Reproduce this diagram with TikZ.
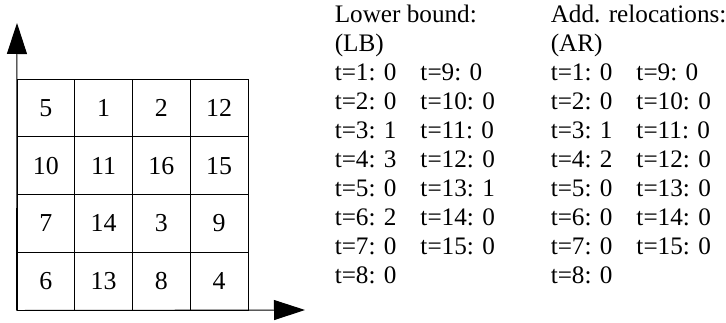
\documentclass[tikz,border=0pt]{standalone}
\usepackage{fontspec}
\setmainfont{Liberation Serif}
\usetikzlibrary{arrows.meta}
\tikzstyle{cell} = [rectangle, draw=black, line width=0.7pt, minimum size=43.31pt, inner sep=0pt, font=\fontsize{19.4}{21.75}\selectfont]
\tikzstyle{list} = [anchor=base west, inner sep=0pt, font=\fontsize{18.9}{21.75}\selectfont]
\tikzstyle{axis} = [line width=0.7pt, -{Triangle[length=23.25pt, width=15pt]}]
\begin{document}
\begin{tikzpicture}[x=0.75pt, y=0.75pt, node distance=43.31pt]
\useasboundingbox (0,0) rectangle (726,322);

% slot grid
\node (c11) [cell] at (45.9,214.1) {5};
\node (c12) [cell, right of=c11] {1};
\node (c13) [cell, right of=c12] {2};
\node (c14) [cell, right of=c13] {12};
\node (c21) [cell, below of=c11] {10};
\node (c22) [cell, right of=c21] {11};
\node (c23) [cell, right of=c22] {16};
\node (c24) [cell, right of=c23] {15};
\node (c31) [cell, below of=c21] {7};
\node (c32) [cell, right of=c31] {14};
\node (c33) [cell, right of=c32] {3};
\node (c34) [cell, right of=c33] {9};
\node (c41) [cell, below of=c31] {6};
\node (c42) [cell, right of=c41] {13};
\node (c43) [cell, right of=c42] {8};
\node (c44) [cell, right of=c43] {4};

% axes
\coordinate (xend) at (305,12);
\coordinate (yend) at (17,299);
\draw [axis] (c41.south west) -- (xend);
\draw [axis] (c41.south west) -- (yend);

% lower bound
\node (lb) [list] at (334.5,299.3) {\begin{tabular}[t]{@{}p{64.3pt}@{}l@{}}
\multicolumn{2}{@{}l@{}}{Lower bound:}\\
\multicolumn{2}{@{}l@{}}{(LB)}\\
t=1: 0 & t=9: 0\\
t=2: 0 & t=10: 0\\
t=3: 1 & t=11: 0\\
t=4: 3 & t=12: 0\\
t=5: 0 & t=13: 1\\
t=6: 2 & t=14: 0\\
t=7: 0 & t=15: 0\\
t=8: 0 &
\end{tabular}};

% additional relocations
\node (ar) [list] at (550.5,299.3) {\begin{tabular}[t]{@{}p{64.3pt}@{}l@{}}
\multicolumn{2}{@{}l@{}}{Add. relocations:}\\
\multicolumn{2}{@{}l@{}}{(AR)}\\
t=1: 0 & t=9: 0\\
t=2: 0 & t=10: 0\\
t=3: 1 & t=11: 0\\
t=4: 2 & t=12: 0\\
t=5: 0 & t=13: 0\\
t=6: 0 & t=14: 0\\
t=7: 0 & t=15: 0\\
t=8: 0 &
\end{tabular}};
\end{tikzpicture}
\end{document}
